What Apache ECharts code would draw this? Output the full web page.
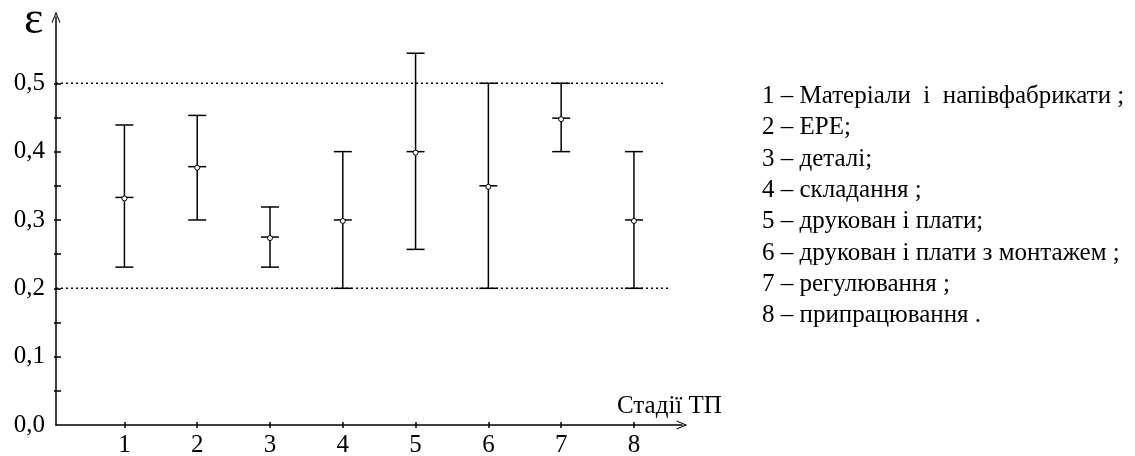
<!DOCTYPE html>
<html>
<head>
<meta charset="utf-8">
<script src="https://cdn.jsdelivr.net/npm/echarts@6/dist/echarts.min.js"></script>
<style>
  html, body { margin: 0; padding: 0; background: #fff; }
  #chart { width: 1135px; height: 456px; }
</style>
</head>
<body>
<div id="chart"></div>
<script>
  // стадії ТП
  var stages = [1, 2, 3, 4, 5, 6, 7, 8];
  var lowVals = [0.231, 0.300, 0.231, 0.200, 0.257, 0.200, 0.400, 0.200];
  var midVals = [0.333, 0.378, 0.275, 0.300, 0.400, 0.350, 0.449, 0.300];
  var highVals = [0.439, 0.453, 0.319, 0.400, 0.544, 0.500, 0.500, 0.400];

  // пунктирні межі
  var limitUpper = [[0.06, 0.5], [8.43, 0.5]];
  var limitLower = [[0.06, 0.2], [8.50, 0.2]];

  var yTicks = [0.05, 0.1, 0.15, 0.2, 0.25, 0.3, 0.35, 0.4, 0.45, 0.5];
  var yLabels = [0, 0.1, 0.2, 0.3, 0.4, 0.5];

  var legendLines = [
    '1 – Матеріали  і  напівфабрикати ;',
    '2 – ЕРЕ;',
    '3 – деталі;',
    '4 – складання ;',
    '5 – друкован і плати;',
    '6 – друкован і плати з монтажем ;',
    '7 – регулювання ;',
    '8 – припрацювання .'
  ];

  var font = '"Liberation Serif", "DejaVu Serif", serif';
  var arrow = 'path://M0,12 L5,0 L10,12 L8.8,12 L5,3 L1.2,12 Z';

  var barData = stages.map(function (s, i) {
    return [s, lowVals[i], midVals[i], highVals[i]];
  });

  function renderBar(params, api) {
    var x = api.value(0);
    var lo = api.coord([x, api.value(1)]);
    var mid = api.coord([x, api.value(2)]);
    var hi = api.coord([x, api.value(3)]);
    var w = 9;
    var st = { stroke: '#000', lineWidth: 1.5 };
    return {
      type: 'group',
      children: [
        { type: 'line', shape: { x1: hi[0], y1: hi[1], x2: lo[0], y2: lo[1] }, style: st },
        { type: 'line', shape: { x1: hi[0] - w, y1: hi[1], x2: hi[0] + w, y2: hi[1] }, style: st },
        { type: 'line', shape: { x1: lo[0] - w, y1: lo[1], x2: lo[0] + w, y2: lo[1] }, style: st },
        { type: 'line', shape: { x1: mid[0] - w, y1: mid[1], x2: mid[0] + w, y2: mid[1] }, style: st },
        { type: 'circle', shape: { cx: mid[0], cy: mid[1] + 1, r: 2.5 }, style: { fill: '#fff', stroke: '#000', lineWidth: 1 } }
      ]
    };
  }

  var chart = echarts.init(document.getElementById('chart'));

  var legendGraphics = legendLines.map(function (t, i) {
    return {
      type: 'text',
      left: 762,
      top: 84 + i * 31.3,
      style: { text: t, font: '25px ' + font, fill: '#000' }
    };
  });

  chart.setOption({
    animation: false,
    backgroundColor: '#fff',
    grid: { left: 56, right: 453, top: 17, bottom: 31, outerBoundsMode: 'none' },
    xAxis: [{
      type: 'value',
      min: 0.06,
      max: 8.66,
      splitLine: { show: false },
      axisLine: { show: true, lineStyle: { color: '#000', width: 1.5 }, symbol: ['none', arrow], symbolSize: [9, 14] },
      axisTick: { show: true, inside: true, length: 3, customValues: stages, lineStyle: { color: '#000', width: 1.5 } },
      axisLabel: { customValues: stages, color: '#000', fontFamily: font, fontSize: 25, margin: 8 }
    }, {
      type: 'value',
      min: 0.06,
      max: 8.66,
      position: 'bottom',
      splitLine: { show: false },
      axisLine: { show: false },
      axisTick: { show: true, inside: false, length: 3, customValues: stages, lineStyle: { color: '#000', width: 1.5 } },
      axisLabel: { show: false }
    }],
    yAxis: [{
      type: 'value',
      min: 0,
      max: 0.597,
      splitLine: { show: false },
      axisLine: { show: true, lineStyle: { color: '#000', width: 1.5 }, symbol: ['none', arrow], symbolSize: [9, 14] },
      axisTick: { show: true, inside: true, length: 5, customValues: yTicks, lineStyle: { color: '#000', width: 1.5 } },
      axisLabel: {
        customValues: yLabels, color: '#000', fontFamily: font, fontSize: 25, margin: 11,
        formatter: function (v) { return v.toFixed(1).replace('.', ','); }
      }
    }, {
      type: 'value',
      min: 0,
      max: 0.597,
      position: 'left',
      splitLine: { show: false },
      axisLine: { show: false },
      axisTick: { show: true, inside: false, length: 2, customValues: yTicks, lineStyle: { color: '#000', width: 1.5 } },
      axisLabel: { show: false }
    }],
    graphic: [
      { type: 'text', left: 24, top: -2, style: { text: 'ε', font: '46px ' + font, fill: '#000' } },
      { type: 'text', left: 617, top: 394, style: { text: 'Стадії ТП', font: '25px ' + font, fill: '#000' } }
    ].concat(legendGraphics),
    series: [
      {
        type: 'line', data: limitUpper, symbol: 'none', silent: true,
        lineStyle: { color: '#000', width: 1.5, type: [2, 3] }
      },
      {
        type: 'line', data: limitLower, symbol: 'none', silent: true,
        lineStyle: { color: '#000', width: 1.5, type: [2, 3] }
      },
      {
        type: 'custom',
        renderItem: renderBar,
        encode: { x: 0, y: [1, 2, 3] },
        data: barData,
        z: 3
      }
    ]
  });
</script>
</body>
</html>
